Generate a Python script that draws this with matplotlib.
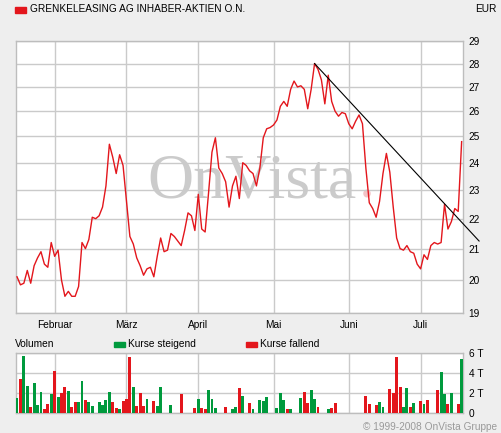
import numpy as np
import pandas as pd
import matplotlib
matplotlib.use('Agg')
import matplotlib.pyplot as plt
from matplotlib.ticker import FixedLocator, NullLocator, FixedFormatter

plt.rcParams['font.family'] = ['Liberation Sans', 'DejaVu Sans']

# trading days shown in the chart
days = pd.bdate_range('2008-01-17', '2008-07-17')
months = ['Februar', 'März', 'April', 'Mai', 'Juni', 'Juli']

# closing price in EUR, one per trading day
price = [20.1, 19.85, 19.9, 20.3, 19.9, 20.45, 20.7, 20.9, 20.5, 20.4,
         21.2, 20.75, 20.95, 20.0, 19.5, 19.65, 19.5, 19.5, 19.8, 21.2,
         21.0, 21.3, 22.05, 22.0, 22.1, 22.4, 23.15, 24.7, 24.2, 23.6,
         24.3, 23.9, 22.6, 21.4, 21.15, 20.7, 20.45, 20.15, 20.35, 20.4,
         20.1, 20.75, 21.35, 20.9, 20.95, 21.5, 21.4, 21.25, 21.1, 21.6,
         22.2, 22.1, 21.6, 22.85, 21.65, 21.55, 22.9, 24.4, 24.95, 23.8,
         23.6, 23.3, 22.4, 23.15, 23.5, 22.7, 24.0, 23.9, 23.7, 23.6,
         23.15, 23.8, 24.95, 25.3, 25.35, 25.45, 25.65, 26.2, 26.4, 26.2,
         26.9, 27.25, 27.0, 27.05, 26.9, 26.1, 26.9, 28.0, 27.75, 27.3,
         26.3, 27.5, 26.4, 26.0, 25.8, 25.95, 25.9, 25.5, 25.3, 25.6,
         25.85, 25.5, 23.8, 22.55, 22.35, 22.05, 22.6, 23.6, 24.35, 23.65,
         22.4, 21.35, 21.0, 20.95, 21.1, 20.9, 20.85, 20.5, 20.35, 20.8,
         20.65, 21.1, 21.2, 21.15, 21.2, 22.5, 21.65, 21.9, 22.35, 22.25,
         24.8]

# volume in thousands of shares
volume = [1.5, 3.4, 5.7, 2.7, 0.6, 3.0, 0.8, 2.1, 0.4, 0.9,
          1.9, 4.2, 1.6, 2.0, 2.6, 2.2, 0.6, 1.1, 1.1, 3.2,
          1.3, 1.1, 0.7, 0.0, 1.1, 0.8, 1.3, 2.1, 1.1, 0.5,
          0.4, 1.2, 1.4, 5.6, 2.6, 0.7, 2.0, 0.7, 1.4, 0.0,
          1.2, 0.7, 2.6, 0.0, 0.0, 0.8, 0.0, 0.0, 1.9, 0.0,
          0.0, 0.0, 0.5, 1.4, 0.5, 0.4, 2.3, 1.4, 0.5, 0.0,
          0.0, 0.6, 0.0, 0.4, 0.6, 2.5, 1.7, 0.0, 1.0, 0.4,
          0.0, 1.3, 1.2, 1.6, 0.0, 0.0, 0.5, 2.0, 1.3, 0.4,
          0.4, 0.0, 0.0, 1.5, 2.1, 1.0, 2.3, 1.4, 0.6, 0.0,
          0.0, 0.4, 0.5, 1.0, 0.0, 0.0, 0.0, 0.0, 0.0, 0.0,
          0.0, 0.0, 1.7, 0.9, 0.0, 0.8, 1.1, 0.6, 0.0, 2.4,
          2.0, 5.6, 2.6, 0.6, 2.5, 0.6, 1.0, 0.0, 1.2, 0.9,
          1.3, 0.0, 0.0, 2.3, 4.1, 1.9, 0.9, 2.0, 0.0, 0.9,
          5.4]

# 1 = Kurse steigend, 0 = Kurse fallend
rising = [1, 0, 1, 1, 0, 1, 1, 1, 0, 0,
          1, 0, 1, 0, 0, 1, 0, 0, 1, 1,
          0, 1, 1, 1, 1, 1, 1, 1, 0, 0,
          1, 0, 0, 0, 1, 0, 0, 0, 1, 1,
          0, 1, 1, 1, 1, 1, 1, 1, 0, 1,
          1, 1, 0, 1, 0, 0, 1, 1, 1, 1,
          1, 0, 1, 1, 1, 0, 1, 1, 0, 1,
          1, 1, 1, 1, 1, 1, 1, 1, 1, 0,
          1, 1, 1, 1, 0, 0, 1, 1, 0, 1,
          1, 1, 0, 0, 1, 1, 1, 1, 1, 1,
          1, 1, 0, 0, 1, 0, 1, 1, 1, 0,
          0, 0, 0, 1, 1, 0, 1, 1, 0, 1,
          0, 1, 1, 0, 1, 1, 0, 1, 1, 0,
          1]

# downtrend line from the May high
trend_days = [87, 135.1]
trend_price = [28.0, 21.25]

RED = '#E3161C'
GREEN = '#009A3D'
GRID = '#CACACA'
BG = '#EEEEEE'

x = np.arange(len(days))
month_idx = [int(np.argmax(days.month == m)) for m in range(2, 8)]

fig = plt.figure(figsize=(5.01, 4.33), dpi=100, facecolor=BG)
W, H = 501.0, 433.0

def style(ax):
    ax.set_xlim(-0.3, 130.4)
    for s in ax.spines.values():
        s.set_color('#BDBDBD')
        s.set_linewidth(1.0)
    ax.set_xticks(month_idx)
    ax.grid(True, color=GRID, linewidth=1.0)
    ax.set_axisbelow(True)
    ax.yaxis.tick_right()
    ax.tick_params(length=0, labelsize=7.3, colors='black')

# price panel
ax = fig.add_axes([16 / W, 1 - 313 / H, 447 / W, 272 / H])
style(ax)
ax.set_yscale('log')
ax.set_ylim(19, 29)
ax.yaxis.set_major_locator(FixedLocator(range(19, 30)))
ax.yaxis.set_major_formatter(FixedFormatter([str(v) for v in range(19, 30)]))
ax.yaxis.set_minor_locator(NullLocator())
ax.tick_params(axis='y', pad=4)
ax.tick_params(axis='x', pad=5)
ax.set_xticklabels(months)

# watermark
ax.text(0.528, 0.423, 'OnVista', transform=ax.transAxes, ha='center', va='baseline',
        fontsize=46, family='Liberation Serif', color='#CBCBCB', zorder=0)
ax.text(0.766, 0.423, '.', transform=ax.transAxes, ha='left', va='baseline',
        fontsize=46, family='Liberation Serif', color='#F2C4C6', zorder=0)

ax.plot(x, price, color=RED, linewidth=1.0, zorder=3)
ax.plot(trend_days, trend_price, color='black', linewidth=0.8, zorder=4, clip_on=False)

# volume panel
axv = fig.add_axes([16 / W, 1 - 413 / H, 447 / W, 60 / H])
style(axv)
axv.set_ylim(0, 6)
axv.set_yticks([0, 2, 4, 6])
axv.set_yticklabels(['0', '2 T', '4 T', '6 T'])
axv.tick_params(axis='y', pad=4)
axv.set_xticklabels([])
colors = [GREEN if r else RED for r in rising]
axv.bar(x, volume, width=0.85, color=colors, linewidth=0, zorder=3)

# header and legends
fig.patches.append(plt.Rectangle((15 / W, 1 - 12.5 / H), 11 / W, 5.5 / H,
                                 transform=fig.transFigure, color=RED))
fig.text(29.5 / W, 1 - 9.5 / H, 'GRENKELEASING AG INHABER-AKTIEN O.N.',
         fontsize=7.3, va='center', ha='left')
fig.text(475 / W, 1 - 9.5 / H, 'EUR', fontsize=7.3, va='center', ha='left')

fig.text(15 / W, 1 - 344 / H, 'Volumen', fontsize=7.3, va='center', ha='left')
fig.patches.append(plt.Rectangle((114 / W, 1 - 347 / H), 11 / W, 5.5 / H,
                                 transform=fig.transFigure, color=GREEN))
fig.text(128 / W, 1 - 344 / H, 'Kurse steigend', fontsize=7.3, va='center', ha='left')
fig.patches.append(plt.Rectangle((246 / W, 1 - 347 / H), 11 / W, 5.5 / H,
                                 transform=fig.transFigure, color=RED))
fig.text(260 / W, 1 - 344 / H, 'Kurse fallend', fontsize=7.3, va='center', ha='left')

fig.text(497 / W, 1 - 427.5 / H, '© 1999-2008 OnVista Gruppe', fontsize=7.3,
         va='center', ha='right', color='#9A9A9A')

fig.savefig('out.png', dpi=100, facecolor=BG)
